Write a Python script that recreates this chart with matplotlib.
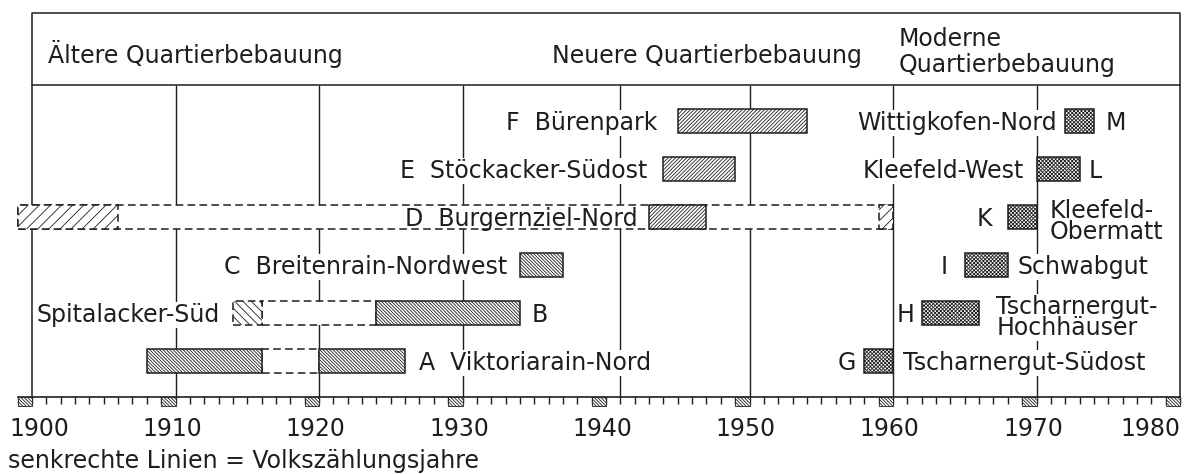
import matplotlib.pyplot as plt
from matplotlib.patches import Rectangle

plt.rcParams['font.family'] = 'DejaVu Sans'
plt.rcParams['hatch.linewidth'] = 0.6

# Volkszaehlungsjahre (senkrechte Linien) und Dekaden der Zeitachse
zaehljahre = [1910, 1920, 1930, 1941, 1950, 1960, 1970]
dekaden = [1900, 1910, 1920, 1930, 1940, 1950, 1960, 1970, 1980]

# Quartiere, Zeile (0 = unten) und Epoche
quartiere = ["A", "B", "C", "D", "E", "F", "G", "H", "I", "K", "L", "M"]
zeilen = [0, 1, 2, 3, 4, 5, 0, 1, 2, 3, 4, 5]
epochen = ["alt", "alt", "alt", "neu", "neu", "neu",
           "modern", "modern", "modern", "modern", "modern", "modern"]

# Hauptbauperioden (ausgezogene Balken)
bau_q = ["A", "A", "B", "C", "D", "E", "F", "G", "H", "I", "K", "L", "M"]
bau_von = [1908, 1920, 1924, 1934, 1943, 1944, 1945, 1958, 1962, 1965, 1968, 1970, 1972]
bau_bis = [1916, 1926, 1934, 1937, 1947, 1949, 1954, 1960, 1966, 1968, 1970, 1973, 1974]

# Unterbrueche (gestrichelte Rahmen)
luecke_q = ["A", "B", "D"]
luecke_von = [1916, 1916, 1899]
luecke_bis = [1920, 1924, 1960]

# einzelne fruehe / spaete Bauten (gestrichelt, schraffiert)
einzel_q = ["B", "D", "D"]
einzel_von = [1914, 1899, 1959]
einzel_bis = [1916, 1906, 1960]

# Beschriftungen: Quartier, Text, x, Ausrichtung
beschriftungen = [
    ("A", "A  Viktoriarain-Nord", 1927.0, "left"),
    ("B", "Spitalacker-Süd", 1913.1, "right"),
    ("B", "B", 1934.8, "left"),
    ("C", "C  Breitenrain-Nordwest", 1933.1, "right"),
    ("D", "D  Burgernziel-Nord", 1942.2, "right"),
    ("E", "E  Stöckacker-Südost", 1942.9, "right"),
    ("F", "F  Bürenpark", 1943.6, "right"),
    ("G", "G", 1957.4, "right"),
    ("G", "Tscharnergut-Südost", 1960.7, "left"),
    ("H", "H", 1961.5, "right"),
    ("H", "Tscharnergut-\nHochhäuser", 1967.2, "left"),
    ("I", "I", 1963.8, "right"),
    ("I", "Schwabgut", 1968.7, "left"),
    ("K", "K", 1966.9, "right"),
    ("K", "Kleefeld-\nObermatt", 1970.9, "left"),
    ("L", "Kleefeld-West", 1969.1, "right"),
    ("L", "L", 1973.6, "left"),
    ("M", "Wittigkofen-Nord", 1971.4, "right"),
    ("M", "M", 1974.8, "left"),
]

schraffur = {"alt": "\\" * 10, "neu": "/" * 9, "modern": "x" * 9}
schraffur_einzel = {"alt": "\\" * 4, "neu": "///"}

ink = '#1e1e1e'
fs = 17
px = 1 / 48  # ein Pixel in y-Einheiten

fig = plt.figure(figsize=(11.85, 4.74), dpi=100)
ax = fig.add_axes([32 / 1185, 77 / 474, 1148 / 1185, 384 / 474])
ax.set_xlim(1900, 1980)
ax.set_ylim(0, 8)
ax.axis('off')

# Rahmen und Kopfzeile
ax.plot([1900, 1900, 1980, 1980], [0, 8, 8, 0], color=ink, lw=1.1, clip_on=False, zorder=1)
ax.plot([1900, 1980], [6.5, 6.5], color=ink, lw=1.1, clip_on=False, zorder=1)
ax.plot([1899, 1980], [0, 0], color=ink, lw=1.2, clip_on=False, zorder=1)
ax.vlines(zaehljahre, 0, 6.5, color=ink, lw=1.0, zorder=1)

# Zeitachse: Jahresstriche und schraffierte Dekadenmarken
ax.vlines(range(1899, 1981), -0.14, 0, color=ink, lw=1.0, clip_on=False)
for d in dekaden:
    ax.add_patch(Rectangle((d - 1, -0.19), 1, 0.19, facecolor='white', edgecolor=ink,
                           hatch="\\" * 10, lw=0.6, clip_on=False, zorder=2))
for d in dekaden:
    if d == 1900:
        ax.text(1898.45, -0.81, str(d), ha='left', va='baseline', fontsize=fs, color=ink)
    elif d == 1980:
        ax.text(1980, -0.81, str(d), ha='right', va='baseline', fontsize=fs, color=ink)
    else:
        ax.text(d - 0.25, -0.81, str(d), ha='center', va='baseline', fontsize=fs, color=ink)


def zeile_von(q):
    return zeilen[quartiere.index(q)]


def epoche_von(q):
    return epochen[quartiere.index(q)]


dash = (0, (5, 2.8))

for q, a, b in zip(luecke_q, luecke_von, luecke_bis):
    y = zeile_von(q) + 0.5
    ax.add_patch(Rectangle((a, y), b - a, 0.5, facecolor='white', edgecolor=ink,
                           lw=1.1, linestyle=dash, clip_on=False, zorder=2))

for q, a, b in zip(einzel_q, einzel_von, einzel_bis):
    y = zeile_von(q) + 0.5
    ax.add_patch(Rectangle((a, y), b - a, 0.5, facecolor='white', edgecolor=ink,
                           hatch=schraffur_einzel[epoche_von(q)], lw=1.1,
                           linestyle=dash, clip_on=False, zorder=3))

for q, a, b in zip(bau_q, bau_von, bau_bis):
    y = zeile_von(q) + 0.5
    ax.add_patch(Rectangle((a, y), b - a, 0.5, facecolor='white', edgecolor=ink,
                           hatch=schraffur[epoche_von(q)], lw=1.1, zorder=4))

# Beschriftungen der Quartiere
for q, txt, x, ha in beschriftungen:
    yc = zeile_von(q) + 0.75
    kw = dict(ha=ha, fontsize=fs, color=ink, zorder=5)
    if q != "D":
        kw['bbox'] = dict(facecolor='white', edgecolor='none', pad=0.5)
    if "\n" in txt:
        ax.text(x, yc - 4.6 * px, txt, va='center', linespacing=0.86, **kw)
    else:
        ax.text(x, yc - 9 * px, txt, va='baseline', **kw)

# Kopfzeile
ax.text(1901.1, 6.958, "Ältere Quartierbebauung", ha='left', va='baseline', fontsize=fs, color=ink)
ax.text(1957.8, 6.958, "Neuere Quartierbebauung", ha='right', va='baseline', fontsize=fs, color=ink)
ax.text(1960.4, 7.19, "Moderne\nQuartierbebauung", ha='left', va='center',
        linespacing=1.14, fontsize=fs, color=ink)

fig.text(8 / 1185, 6 / 474, "senkrechte Linien = Volkszählungsjahre",
         ha='left', va='baseline', fontsize=fs, color=ink)

plt.savefig('out.png', dpi=100)
